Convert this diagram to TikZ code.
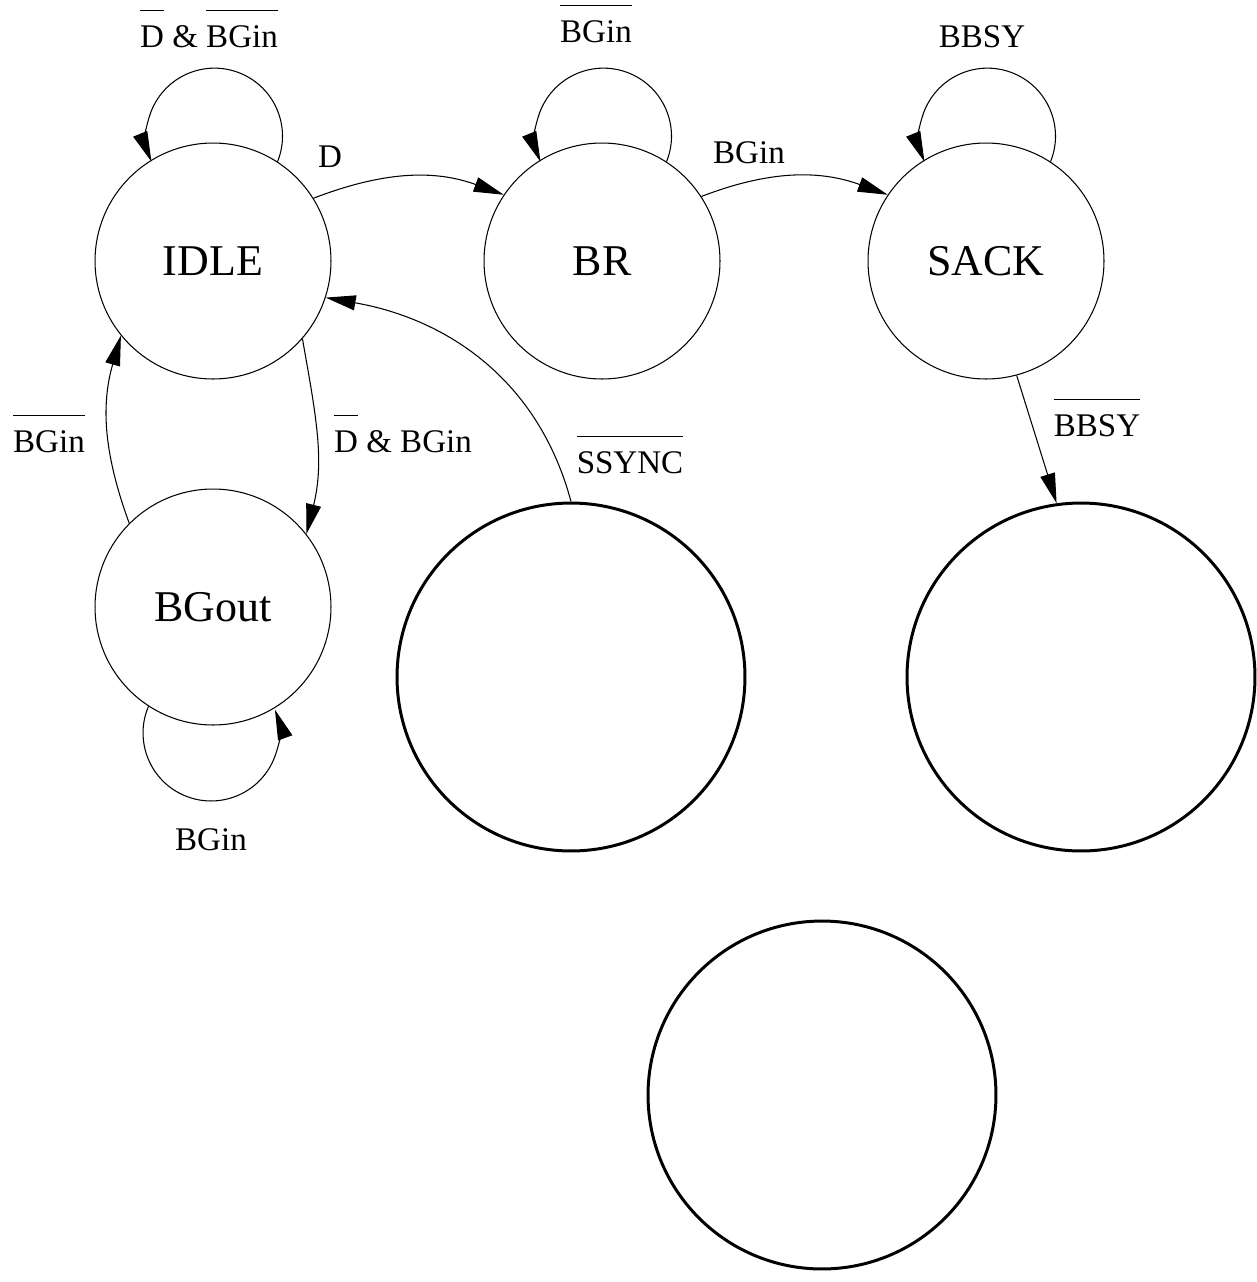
\documentclass[tikz,border=0pt]{standalone}
\usepackage{fontspec}
\setmainfont{Liberation Serif}
\usetikzlibrary{arrows.meta}
\newcommand{\nbar}[1]{\leavevmode\setbox0\hbox{#1}\rlap{\rule[1.08em]{\wd0}{0.6pt}}\box0\relax}

\begin{document}
\begin{tikzpicture}[x=0.02cm,y=0.02cm,
  state/.style={draw,circle,line width=0.6pt,minimum size=4.72cm,inner sep=0pt,font=\fontsize{25}{30}\selectfont},
  bigstate/.style={draw,circle,line width=1.7pt,minimum size=6.96cm,inner sep=0pt},
  trans/.style={line width=0.6pt,-{Triangle[length=0.6cm,width=0.3cm]}},
  cond/.style={anchor=base,font=\fontsize{18.8}{22}\selectfont}]
  \useasboundingbox (0,0) rectangle (1257,-1282);
  % states
  \node[state] (idle) at (213,-261) {IDLE};
  \node[state] (br) at (602,-261) {BR};
  \node[state] (sack) at (986,-261) {SACK};
  \node[state] (bgout) at (213,-607) {BGout};
  \node[bigstate] (next1) at (571,-677) {};
  \node[bigstate] (next2) at (1081,-677) {};
  \node[bigstate] (next3) at (822,-1095) {};
  % transitions
  \draw[trans] (idle.57) arc[start angle=-22,end angle=202,radius=68];
  \draw[trans] (br.57) arc[start angle=-22,end angle=202,radius=68];
  \draw[trans] (sack.57) arc[start angle=-22,end angle=202,radius=68];
  \draw[trans] (bgout.237) arc[start angle=157,end angle=380,radius=68];
  \draw[trans] (idle.32) to[out=21,in=160] (br.146);
  \draw[trans] (br.33) to[out=21,in=160] (sack.146);
  \draw[trans] (sack.-75) -- (next2.98);
  \draw[trans] (idle.-41) to[out=-80,in=76] (bgout.38);
  \draw[trans] (bgout.135) to[out=110,in=-106] (idle.219);
  \draw[trans] (next1.north) to[out=105,in=-10] (idle.-18);
  % conditions
  \node[cond] (c_idle) at (209,-47) {\nbar{D} \& \nbar{BGin}};
  \node[cond] (c_d) at (330,-167) {D};
  \node[cond] (c_br) at (596,-42) {\nbar{BGin}};
  \node[cond] (c_bgin) at (749,-163) {BGin};
  \node[cond] (c_sack) at (982,-47) {BBSY};
  \node[cond] (c_bbsy) at (1097,-436) {\nbar{BBSY}};
  \node[cond] (c_back) at (49,-452) {\nbar{BGin}};
  \node[cond] (c_grant) at (403,-452) {\nbar{D} \& BGin};
  \node[cond] (c_ssync) at (630,-473) {\nbar{SSYNC}};
  \node[cond] (c_bgout) at (211,-850) {BGin};
\end{tikzpicture}
\end{document}
